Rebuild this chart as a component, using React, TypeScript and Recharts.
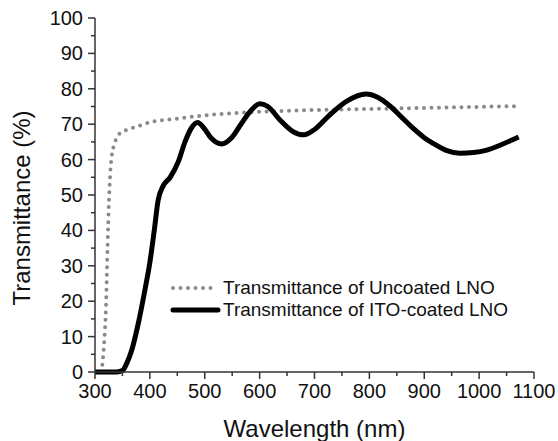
import { LineChart, Line, XAxis, YAxis, Legend } from "recharts";

// wavelength (nm) and transmittance (%)
const uncoatedWl = [312, 314, 317, 320, 323, 325.5, 330, 336, 344, 358, 374, 402, 446, 488, 531, 600, 650, 700, 800, 900, 1000, 1070];
const uncoatedT = [0, 3, 9, 18.4, 36, 48.6, 60.4, 64.7, 67.2, 68.4, 69.2, 70.6, 71.5, 72.3, 72.9, 73.5, 73.8, 74, 74.3, 74.6, 74.9, 75.1];

const itoWl = [300, 320, 340, 350, 358, 367, 379, 391, 400, 408, 415, 424, 437, 452, 464, 476, 487, 498, 512, 531, 548, 566, 585, 600, 615, 637, 660, 681, 700, 727, 759, 794, 815, 837, 860, 880, 900, 916, 940, 965, 990, 1014, 1040, 1072];
const itoT = [0, 0, 0, 0.4, 2.5, 6.2, 13.8, 23.2, 31, 40, 48.5, 52.5, 55, 59.5, 65, 69, 70.5, 69, 66, 64.4, 66, 70, 74, 75.8, 75, 71.2, 68, 67, 68.5, 72.5, 76.5, 78.5, 77.6, 75.2, 71.8, 68.8, 66.2, 64.6, 62.6, 61.8, 62, 62.7, 64.2, 66.4];

const xTicks = [300, 350, 400, 450, 500, 550, 600, 650, 700, 750, 800, 850, 900, 950, 1000, 1050, 1100];
const yTicks = [0, 5, 10, 15, 20, 25, 30, 35, 40, 45, 50, 55, 60, 65, 70, 75, 80, 85, 90, 95, 100];

const seriesNames = ["Transmittance of Uncoated LNO", "Transmittance of ITO-coated LNO"];

const uncoated = uncoatedWl.map((wl, i) => ({ wl, t: uncoatedT[i] }));
const ito = itoWl.map((wl, i) => ({ wl, t: itoT[i] }));

const FONT = "'Liberation Sans', Arial, sans-serif";
const AXIS = "#333";
const GRAY = "#8a8a8a";
const TEXT = "#111";

function BottomTick({ x, y, payload }: any) {
  const major = payload.value % 100 === 0;
  return (
    <g>
      <line x1={x} x2={x} y1={y} y2={y + (major ? 7 : 4)} stroke={AXIS} strokeWidth={1.5} />
      {major && (
        <text x={x} y={y + 26} textAnchor="middle" fontSize={20} fontFamily={FONT} fill={TEXT}>
          {payload.value}
        </text>
      )}
    </g>
  );
}

function TopTick({ x, y, payload }: any) {
  const major = payload.value % 100 === 0;
  return <line x1={x} x2={x} y1={y} y2={y + (major ? 7 : 4)} stroke={AXIS} strokeWidth={1.5} />;
}

function LeftTick({ x, y, payload }: any) {
  const major = payload.value % 10 === 0;
  return (
    <g>
      <line x1={x} x2={x - (major ? 7 : 4)} y1={y} y2={y} stroke={AXIS} strokeWidth={1.5} />
      {major && (
        <text x={x - 12} y={y + 7} textAnchor="end" fontSize={20} fontFamily={FONT} fill={TEXT}>
          {payload.value}
        </text>
      )}
    </g>
  );
}

function RightTick({ x, y, payload }: any) {
  const major = payload.value % 10 === 0;
  return <line x1={x} x2={x - (major ? 7 : 4)} y1={y} y2={y} stroke={AXIS} strokeWidth={1.5} />;
}

function LegendBox() {
  return (
    <div style={{ fontFamily: FONT, fontSize: 19, color: TEXT, lineHeight: "22px" }}>
      <div style={{ display: "flex", alignItems: "center", whiteSpace: "nowrap" }}>
        <svg width={53} height={10}>
          <line x1={3} x2={43} y1={5} y2={5} stroke={GRAY} strokeWidth={4} strokeDasharray="0 7.5" strokeLinecap="round" />
        </svg>
        <span>{seriesNames[0]}</span>
      </div>
      <div style={{ display: "flex", alignItems: "center", whiteSpace: "nowrap" }}>
        <svg width={53} height={10}>
          <line x1={3} x2={48} y1={5} y2={5} stroke="#000" strokeWidth={5} strokeLinecap="round" />
        </svg>
        <span>{seriesNames[1]}</span>
      </div>
    </div>
  );
}

export default function App() {
  return (
    <div style={{ position: "absolute", left: 0, top: 0 }}>
      <LineChart width={558} height={441} margin={{ top: 18, right: 24, left: 0, bottom: 0 }}>
        <XAxis
          xAxisId="bottom"
          dataKey="wl"
          type="number"
          domain={[300, 1100]}
          ticks={xTicks}
          interval={0}
          height={69}
          tickSize={0}
          tickMargin={0}
          tickLine={false}
          tick={<BottomTick />}
          axisLine={{ stroke: AXIS, strokeWidth: 1.5 }}
          label={{
            content: (p: any) => (
              <text
                x={p.viewBox.x + p.viewBox.width / 2}
                y={p.viewBox.y + 65}
                textAnchor="middle"
                fontSize={24}
                fontFamily={FONT}
                fill={TEXT}
              >
                Wavelength (nm)
              </text>
            ),
          }}
        />
        <XAxis
          xAxisId="top"
          orientation="top"
          dataKey="wl"
          type="number"
          domain={[300, 1100]}
          ticks={xTicks}
          interval={0}
          height={0}
          tickSize={0}
          tickMargin={0}
          tickLine={false}
          tick={<TopTick />}
          axisLine={{ stroke: AXIS, strokeWidth: 1.5 }}
        />
        <YAxis
          yAxisId="left"
          type="number"
          domain={[0, 100]}
          ticks={yTicks}
          interval={0}
          width={95}
          tickSize={0}
          tickMargin={0}
          tickLine={false}
          tick={<LeftTick />}
          axisLine={{ stroke: AXIS, strokeWidth: 1.5 }}
          label={{
            content: (p: any) => {
              const cy = p.viewBox.y + p.viewBox.height / 2 + 13;
              return (
                <text
                  x={30}
                  y={cy}
                  transform={`rotate(-90 30 ${cy})`}
                  textAnchor="middle"
                  fontSize={24}
                  fontFamily={FONT}
                  fill={TEXT}
                >
                  Transmittance (%)
                </text>
              );
            },
          }}
        />
        <YAxis
          yAxisId="right"
          orientation="right"
          type="number"
          domain={[0, 100]}
          ticks={yTicks}
          interval={0}
          width={0}
          tickSize={0}
          tickMargin={0}
          tickLine={false}
          tick={<RightTick />}
          axisLine={{ stroke: AXIS, strokeWidth: 1.5 }}
        />
        <Legend
          layout="vertical"
          align="center"
          verticalAlign="middle"
          content={() => <LegendBox />}
          wrapperStyle={{ position: "absolute", left: 170, top: 277, width: "auto", height: "auto" }}
        />
        <Line
          data={uncoated}
          xAxisId="bottom"
          yAxisId="left"
          dataKey="t"
          name={seriesNames[0]}
          type="monotone"
          stroke={GRAY}
          strokeWidth={4}
          strokeDasharray="0 7.5"
          strokeLinecap="round"
          dot={false}
          activeDot={false}
          isAnimationActive={false}
        />
        <Line
          data={ito}
          xAxisId="bottom"
          yAxisId="left"
          dataKey="t"
          name={seriesNames[1]}
          type="monotone"
          stroke="#000"
          strokeWidth={5}
          dot={false}
          activeDot={false}
          isAnimationActive={false}
        />
      </LineChart>
    </div>
  );
}
